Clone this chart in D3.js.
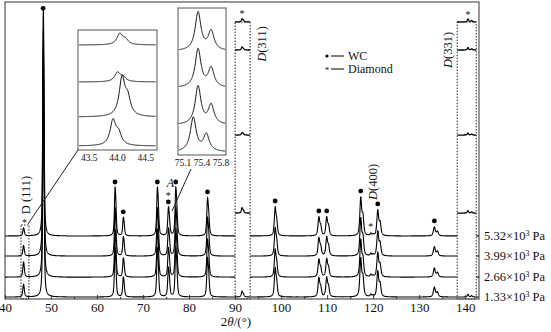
<!DOCTYPE html>
<html><head><meta charset="utf-8">
<script src="https://cdn.jsdelivr.net/npm/d3@7"></script>
<style>
body{margin:0;background:#fff}
svg{display:block}
text{font-family:"Liberation Serif","Times New Roman",serif;fill:#111}
</style>
</head><body><svg id="c" width="551" height="332"></svg>
<script>
// ---------------- data ----------------
const pressures = ["5.32", "3.99", "2.66", "1.33"];
const traceOffsets = [27.0, 18.1, 8.8, 0];               // vertical stacking (intensity units)
const wcPositions = [48.3, 63.9, 65.7, 73.1, 75.5, 77.1, 84.0, 98.7, 108.2, 109.9, 117.3, 121.0, 133.3];
const wcHeights = [
  [98, 21.2, 8.0, 21.2, 12.4, 21.2, 16.8, 12.8, 8.4, 8.4, 17.2, 11.5, 4.0],
  [98, 21.0, 8.4, 21.0, 12.0, 21.4, 17.0, 12.6, 8.2, 8.6, 17.0, 11.2, 4.2],
  [98, 20.6, 8.2, 20.8, 12.6, 21.0, 16.6, 12.4, 8.0, 8.2, 16.8, 11.0, 4.0],
  [98, 21.4, 8.6, 21.4, 12.8, 21.6, 17.2, 13.0, 8.6, 8.8, 17.4, 11.6, 4.4]
];
const diamondPositions = [44.0, 91.5, 119.5, 140.6];
const diamondHeights = [
  [3.5, 1.6, 1.0, 1.5],
  [4.5, 1.5, 1.0, 1.2],
  [6.5, 1.2, 1.0, 1.0],
  [5.5, 2.6, 1.0, 1.2]
];
const boxRanges = [[90.0, 93.26], [138.26, 142.4]];      // D(311), D(331) magnified windows
const boxLevels = [121.6, 109.2, 71.6, 37.1];
const d111Range = [43.48, 45.2];
const xTicks = [40, 50, 60, 70, 80, 90, 100, 110, 120, 130, 140];

// inset 1 : D(111) region
const inset1Ticks = [43.5, 44.0, 44.5];
const inset1Offsets = [87.5, 56.7, 27.5, 3.3];
const inset1Peaks = [44.04, 44.0, 44.08, 43.92];
const inset1Heights = [10, 8.5, 35, 23];
// inset 2 : peak A region
const inset2Labels = ["75.1", "75.4", "75.8"];
const inset2Offsets = [70.7, 45.6, 20.4, 2.0];
const inset2Peaks = [75.41, 75.41, 75.41, 75.30];
const inset2Heights = [27, 27, 27, 24];

// ---------------- drawing ----------------
const svg = d3.select("#c");
const frame = {l: 5, r: 479, t: 2, b: 299};
const x = d3.scaleLinear().domain([40, 143]).range([frame.l, frame.r]);
const y = d3.scaleLinear().domain([0, 130]).range([297, 3]);

function lor(d, g) { return 1 / (1 + (d / g) * (d / g)); }
function gau(d, s) { return Math.exp(-0.5 * (d / s) * (d / s)); }
function peakShape(t, p, h, w, ratio) {
  const delta = 2 * Math.tan(p / 2 * Math.PI / 180) * 0.0025 * 180 / Math.PI;
  const f = d => 0.6 * lor(d, w / 2) + 0.4 * gau(d, w / 2.355);
  return h * (f(t - p) + ratio * f(t - p - delta)) / (1 + ratio * f(delta));
}
function intensity(t, i) {
  let s = 0;
  wcPositions.forEach((p, k) => { if (Math.abs(t - p) < 5) s += peakShape(t, p, wcHeights[i][k], 0.26 + 0.0025 * (p - 40), 0.5); });
  diamondPositions.forEach((p, k) => { if (Math.abs(t - p) < 5) s += peakShape(t, p, diamondHeights[i][k], 0.35, 0.5); });
  return s;
}
const grid = d3.range(40, 143.0001, 0.02);
const line = d3.line().defined(d => d.ok).x(d => x(d.t)).y(d => y(d.v));
const inBox = t => boxRanges.some(r => t > r[0] && t < r[1]);

// main traces
pressures.forEach((pr, i) => {
  const pts = grid.map(t => ({t, v: traceOffsets[i] + intensity(t, i), ok: i === 3 || !inBox(t)}));
  svg.append("path").attr("d", line(pts)).attr("fill", "none").attr("stroke", "#000").attr("stroke-width", 1.1);
});
// lifted segments inside dotted windows
boxRanges.forEach(r => {
  pressures.forEach((pr, i) => {
    const pts = grid.filter(t => t >= r[0] && t <= r[1]).map(t => ({t, v: boxLevels[i] + 0.9 * intensity(t, i), ok: true}));
    svg.append("path").attr("d", line(pts)).attr("fill", "none").attr("stroke", "#000").attr("stroke-width", 1.3);
  });
  svg.append("rect").attr("x", x(r[0])).attr("y", y(boxLevels[0])).attr("width", x(r[1]) - x(r[0]))
    .attr("height", frame.b - y(boxLevels[0])).attr("fill", "none").attr("stroke", "#222")
    .attr("stroke-width", 1).attr("stroke-dasharray", "1.5,1.5");
});
// D(111) dotted window
svg.append("rect").attr("x", x(d111Range[0])).attr("y", 225).attr("width", x(d111Range[1]) - x(d111Range[0]))
  .attr("height", frame.b - 225).attr("fill", "none").attr("stroke", "#222").attr("stroke-width", 1).attr("stroke-dasharray", "1.5,1.5");

// frame
svg.append("rect").attr("x", frame.l).attr("y", frame.t).attr("width", frame.r - frame.l).attr("height", frame.b - frame.t)
  .attr("fill", "none").attr("stroke", "#333").attr("stroke-width", 1);

// x axis
const ax = svg.append("g").attr("transform", `translate(0,${frame.b})`)
  .call(d3.axisBottom(x).tickValues(xTicks).tickSizeInner(-4).tickSizeOuter(0).tickPadding(4).tickFormat(d3.format("d")));
ax.select(".domain").remove();
ax.selectAll("line").attr("stroke", "#333");
ax.selectAll("text").attr("font-size", 13).attr("font-family", "Liberation Serif, serif").attr("fill", "#111");
svg.append("g").attr("transform", `translate(0,${frame.b})`)
  .call(d3.axisBottom(x).tickValues(xTicks.map(v => v + 5).filter(v => v < 143)).tickSizeInner(-2).tickSizeOuter(0).tickFormat(""))
  .call(g => { g.select(".domain").remove(); g.selectAll("line").attr("stroke", "#333"); });

const xl = svg.append("text").attr("x", 236).attr("y", 326).attr("text-anchor", "middle").attr("font-size", 13);
xl.append("tspan").text("2");
xl.append("tspan").attr("font-style", "italic").text("θ");
xl.append("tspan").text("/(°)");

// WC markers (dots) on top trace
wcPositions.forEach((p, k) => {
  svg.append("circle").attr("cx", x(p)).attr("cy", y(traceOffsets[0] + wcHeights[0][k]) - 6).attr("r", 2.4).attr("fill", "#000");
});
// diamond markers (stars)
function star(cx, cy) {
  svg.append("text").attr("x", cx).attr("y", cy + 4).attr("text-anchor", "middle").attr("font-size", 10).text("*");
}
star(x(diamondPositions[0]) + 1, 222);
star(x(diamondPositions[2]), 226);
star(x(75.5), 195);
star(x(diamondPositions[1]), 13);
star(x(diamondPositions[3]), 14);
svg.append("text").attr("x", x(75.5) + 2).attr("y", 187).attr("text-anchor", "middle").attr("font-size", 12).attr("font-style", "italic").text("A");

// rotated labels
function vlabel(cx, cy, italicD, rest) {
  const t = svg.append("text").attr("transform", `translate(${cx},${cy}) rotate(-90)`).attr("text-anchor", "middle")
    .attr("dy", "0.35em").attr("font-size", 12.5);
  t.append("tspan").attr("font-style", italicD ? "italic" : "normal").text("D");
  t.append("tspan").text(rest);
}
vlabel(26, 195, false, " (111)");
vlabel(262, 44, true, "(311)");
vlabel(448, 50, true, "(331)");
vlabel(373, 182, true, "(400)");

// legend
svg.append("circle").attr("cx", 327).attr("cy", 56).attr("r", 1.6).attr("fill", "#000");
svg.append("line").attr("x1", 331).attr("x2", 344).attr("y1", 56).attr("y2", 56).attr("stroke", "#000");
svg.append("text").attr("x", 348).attr("y", 60).attr("font-size", 12).text("WC");
svg.append("text").attr("x", 327).attr("y", 73).attr("text-anchor", "middle").attr("font-size", 9).text("*");
svg.append("line").attr("x1", 331).attr("x2", 344).attr("y1", 69).attr("y2", 69).attr("stroke", "#000");
svg.append("text").attr("x", 348).attr("y", 73).attr("font-size", 12).text("Diamond");

// right labels
pressures.forEach((pr, i) => {
  const t = svg.append("text").attr("x", 484).attr("y", y(traceOffsets[i]) + 4).attr("font-size", 12.5);
  t.append("tspan").text(pr + "×10");
  t.append("tspan").attr("font-size", 8).attr("dy", -4).text("3");
  t.append("tspan").attr("dy", 4).text(" Pa");
});

// ---------------- insets ----------------
function drawInset(box, domain, offsets, peaks, heights, gamma, sh, shRatio) {
  const ix = d3.scaleLinear().domain(domain).range([box.l, box.r]);
  const iy = d3.scaleLinear().domain([0, 100]).range([box.b, box.t]);
  svg.append("rect").attr("x", box.l).attr("y", box.t).attr("width", box.r - box.l).attr("height", box.b - box.t)
    .attr("fill", "#fff").attr("stroke", "#555").attr("stroke-width", 1);
  const g = d3.range(domain[0] + 0.02, domain[1] - 0.02, 0.005);
  const ln = d3.line().x(d => ix(d[0])).y(d => iy(d[1])).curve(d3.curveBasis);
  offsets.forEach((o, i) => {
    const pts = g.map(t => [t, o + heights[i] * (lor(t - peaks[i], gamma) + shRatio * lor(t - peaks[i] - sh, gamma)) / (1 + shRatio * lor(sh, gamma))]);
    svg.append("path").attr("d", ln(pts)).attr("fill", "none").attr("stroke", "#111").attr("stroke-width", 1);
  });
  return ix;
}
const box1 = {l: 78, r: 157, t: 30, b: 150};
const ix1 = drawInset(box1, [43.3, 44.7], inset1Offsets, inset1Peaks, inset1Heights, 0.06, 0.1, 0.45);
inset1Ticks.forEach(v => {
  svg.append("text").attr("x", ix1(v)).attr("y", 161).attr("text-anchor", "middle").attr("font-size", 9.5).text(d3.format(".1f")(v));
});
const box2 = {l: 178, r: 226, t: 8, b: 155};
drawInset(box2, [74.95, 76.05], inset2Offsets, inset2Peaks, inset2Heights, 0.08, 0.3, 0.5);
const lx2 = d3.scalePoint().domain(inset2Labels).range([183, 221]);
inset2Labels.forEach(v => {
  svg.append("text").attr("x", lx2(v)).attr("y", 166).attr("text-anchor", "middle").attr("font-size", 9.5).text(v);
});
// connector lines
svg.append("line").attr("x1", box1.l).attr("y1", box1.b).attr("x2", 28).attr("y2", 224).attr("stroke", "#222").attr("stroke-width", 1);
svg.append("line").attr("x1", 191).attr("y1", 169).attr("x2", 172).attr("y2", 211).attr("stroke", "#222").attr("stroke-width", 1);
</script>
</body></html>
